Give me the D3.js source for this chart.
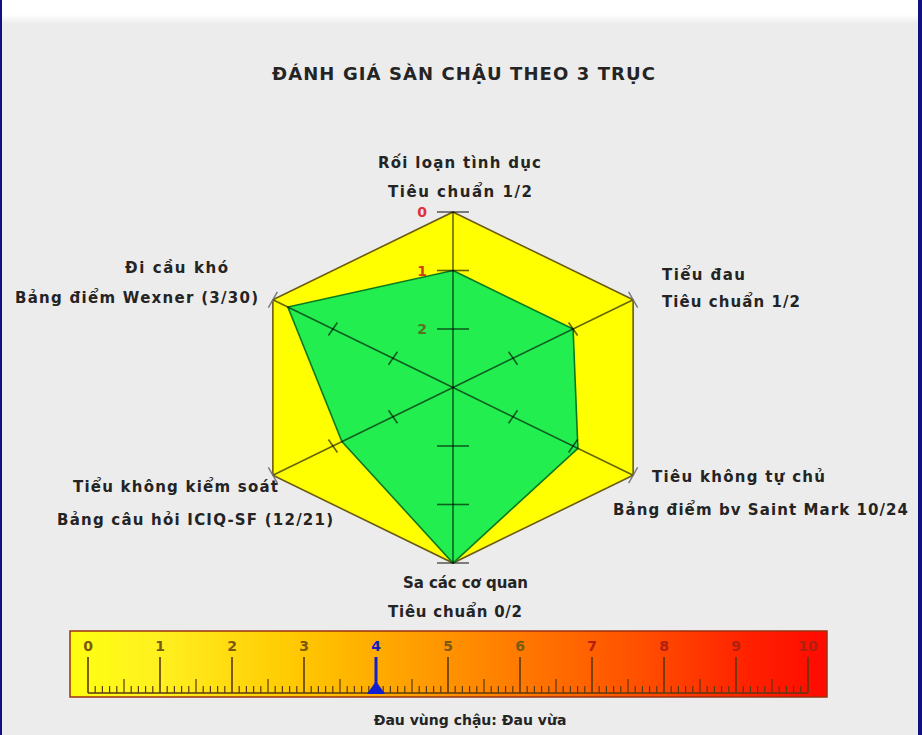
<!DOCTYPE html>
<html><head><meta charset="utf-8">
<script src="https://cdn.jsdelivr.net/npm/d3@7"></script>
<style>
html,body{margin:0;padding:0;background:#ececec;}
svg{display:block;}
text{font-family:"DejaVu Sans","Noto Sans",sans-serif;font-weight:700;}
</style></head>
<body><svg id="chart" width="922" height="735"></svg>
<script>
// ---- data ----
const title = "ĐÁNH GIÁ SÀN CHẬU THEO 3 TRỤC";
const axisNames = ["Rối loạn tình dục","Tiểu đau","Tiêu không tự chủ","Sa các cơ quan","Tiểu không kiểm soát","Đi cầu khó"];
const axisSubs = ["Tiêu chuẩn 1/2","Tiêu chuẩn 1/2","Bảng điểm bv Saint Mark 10/24","Tiêu chuẩn 0/2","Bảng câu hỏi ICIQ-SF (12/21)","Bảng điểm Wexner (3/30)"];
const values = [1, 1, 0.92, 0, 1.15, 0.25];
const radarTicks = [0, 1, 2];
const radarTickColors = ["#e0303c", "#d2400a", "#5a7020"];
const painTicks = [0,1,2,3,4,5,6,7,8,9,10];
const painValue = 4;
const painCaption = "Đau vùng chậu: Đau vừa";

// ---- layout ----
const svg = d3.select("#chart");
const defs = svg.append("defs");
svg.append("rect").attr("x",0).attr("y",0).attr("width",922).attr("height",735).attr("fill","#ececec");
const bgGrad = defs.append("linearGradient").attr("id","topfade").attr("x1",0).attr("y1",0).attr("x2",0).attr("y2",1);
bgGrad.append("stop").attr("offset",0).attr("stop-color","#ffffff");
bgGrad.append("stop").attr("offset",0.6).attr("stop-color","#ffffff");
bgGrad.append("stop").attr("offset",1).attr("stop-color","#ececec");
svg.append("rect").attr("x",0).attr("y",0).attr("width",922).attr("height",24).attr("fill","url(#topfade)");
svg.append("rect").attr("x",0).attr("y",0).attr("width",2).attr("height",735).attr("fill","#101080");
svg.append("rect").attr("x",918).attr("y",0).attr("width",4).attr("height",735).attr("fill","#101080");

function fitText(sel, x, y, anchor, size, width){
  const t = sel.append("text").attr("x",x).attr("y",y).attr("text-anchor",anchor)
    .attr("font-size",size).attr("fill","#242424");
  if(width) t.attr("textLength",width).attr("lengthAdjust","spacing");
  return t;
}

fitText(svg, 272, 80, "start", 18, 383).text(title);

// ---- radar ----
const cx = 453, cy = 387.5, rx = 208, ry = 175.5;
const r = d3.scaleLinear().domain([0,3]).range([1,0]);
const ang = d3.scaleLinear().domain([0, axisNames.length]).range([0, 2*Math.PI]);
const pt = (i, v) => { const a = ang(i), f = r(v); return [cx + rx*f*Math.sin(a), cy - ry*f*Math.cos(a)]; };

const g = svg.append("g");
const line = d3.line().curve(d3.curveLinearClosed);
g.append("path").attr("d", line(axisNames.map((d,i)=>pt(i,0))))
  .attr("fill","#ffff00").attr("stroke","#6b5a10").attr("stroke-width",1.6);
g.append("path").attr("d", line(values.map((v,i)=>pt(i,v))))
  .attr("fill","#22ee50").attr("stroke","#0a7a20").attr("stroke-width",1.6);

axisNames.forEach((d,i)=>{
  const p = pt(i,0);
  g.append("line").attr("x1",cx).attr("y1",cy).attr("x2",p[0]).attr("y2",p[1])
    .attr("stroke","#000").attr("stroke-opacity",0.6).attr("stroke-width",1.6);
});
axisNames.forEach((d,i)=>{
  const a = ang(i);
  const ux = Math.cos(a), uy = Math.sin(a);
  const vertical = (i % 3 === 0);
  const tv = vertical ? [0,1,2] : [1,2];
  tv.forEach(t=>{
    const p = pt(i,t);
    const h = vertical ? 16 : 9;
    g.append("line").attr("x1",p[0]-ux*h).attr("y1",p[1]-uy*h*0.84)
      .attr("x2",p[0]+ux*h).attr("y2",p[1]+uy*h*0.84)
      .attr("stroke","#000").attr("stroke-opacity",0.6).attr("stroke-width",1.6);
  });
  if(!vertical){
    const p = pt(i,0);
    const h = 9;
    g.append("line").attr("x1",p[0]-ux*h).attr("y1",p[1]-uy*h)
      .attr("x2",p[0]+ux*h).attr("y2",p[1]+uy*h)
      .attr("stroke","#777").attr("stroke-width",1.4);
  }
});
radarTicks.forEach((t,k)=>{
  const p = pt(0,t);
  g.append("text").attr("x",p[0]-31).attr("y",p[1]+5).attr("text-anchor","middle")
    .attr("font-size",14).attr("fill",radarTickColors[k]).text(t);
});

// axis labels: [x, baseline y, anchor, fitted width]
const labelPos = [
  [[378,168,"start",163],[388,197,"start",144]],
  [[662,280,"start",83],[662,307,"start",138]],
  [[652,482,"start",173],[613,515,"start",295]],
  [[403,588,"start",125],[388,617,"start",134]],
  [[73,492,"start",205],[57,525,"start",276]],
  [[125,273,"start",103],[15,303,"start",243]]
];
axisNames.forEach((d,i)=>{
  const [A,B] = labelPos[i];
  fitText(svg, A[0], A[1], A[2], 15, A[3]).text(d);
  fitText(svg, B[0], B[1], B[2], 15, B[3]).text(axisSubs[i]);
});

// ---- pain scale ----
const px = d3.scaleLinear().domain([0,10]).range([88,808]);
const barX0 = 70, barX1 = 827, barY0 = 631, barY1 = 697, base = 693;
const pg = defs.append("linearGradient").attr("id","pain").attr("x1",0).attr("x2",1).attr("y1",0).attr("y2",0);
[["0","#ffff10"],["0.12","#fff020"],["0.3","#ffc800"],["0.45","#ffa000"],["0.6","#ff7800"],["0.75","#ff5000"],["0.9","#ff2000"],["1","#ff0a00"]]
  .forEach(s=>pg.append("stop").attr("offset",s[0]).attr("stop-color",s[1]));
svg.append("rect").attr("x",barX0).attr("y",barY0).attr("width",barX1-barX0).attr("height",barY1-barY0)
  .attr("fill","url(#pain)").attr("stroke","#9a3010").attr("stroke-width",1.5);

const pAxis = svg.append("g");
pAxis.append("line").attr("x1",px(0)).attr("x2",px(10)).attr("y1",base).attr("y2",base)
  .attr("stroke","#5a3a10").attr("stroke-width",1.6);
d3.range(0,101).forEach(k=>{
  const v = k/10;
  let top;
  if(k%10===0) top = 657; else if(k%5===0) top = 679; else top = 686;
  pAxis.append("line").attr("x1",px(v)).attr("x2",px(v)).attr("y1",top).attr("y2",base)
    .attr("stroke","#5a3a10").attr("stroke-width",k%10===0?1.6:1.2);
});
painTicks.forEach(t=>{
  pAxis.append("text").attr("x",px(t)).attr("y",651).attr("text-anchor","middle")
    .attr("font-size",14).attr("font-weight",700)
    .attr("fill", t===painValue ? "#1020c0" : (t>=7 ? "#b02010" : "#7a5a10")).text(t);
});
pAxis.append("line").attr("x1",px(painValue)).attr("x2",px(painValue)).attr("y1",657).attr("y2",690)
  .attr("stroke","#1020d0").attr("stroke-width",3);
pAxis.append("path").attr("d",`M${px(painValue)-9},${base+1} L${px(painValue)},${681} L${px(painValue)+9},${base+1} Z`)
  .attr("fill","#1020d0");

fitText(svg, 470, 725, "middle", 14, null).text(painCaption);
</script></body></html>
